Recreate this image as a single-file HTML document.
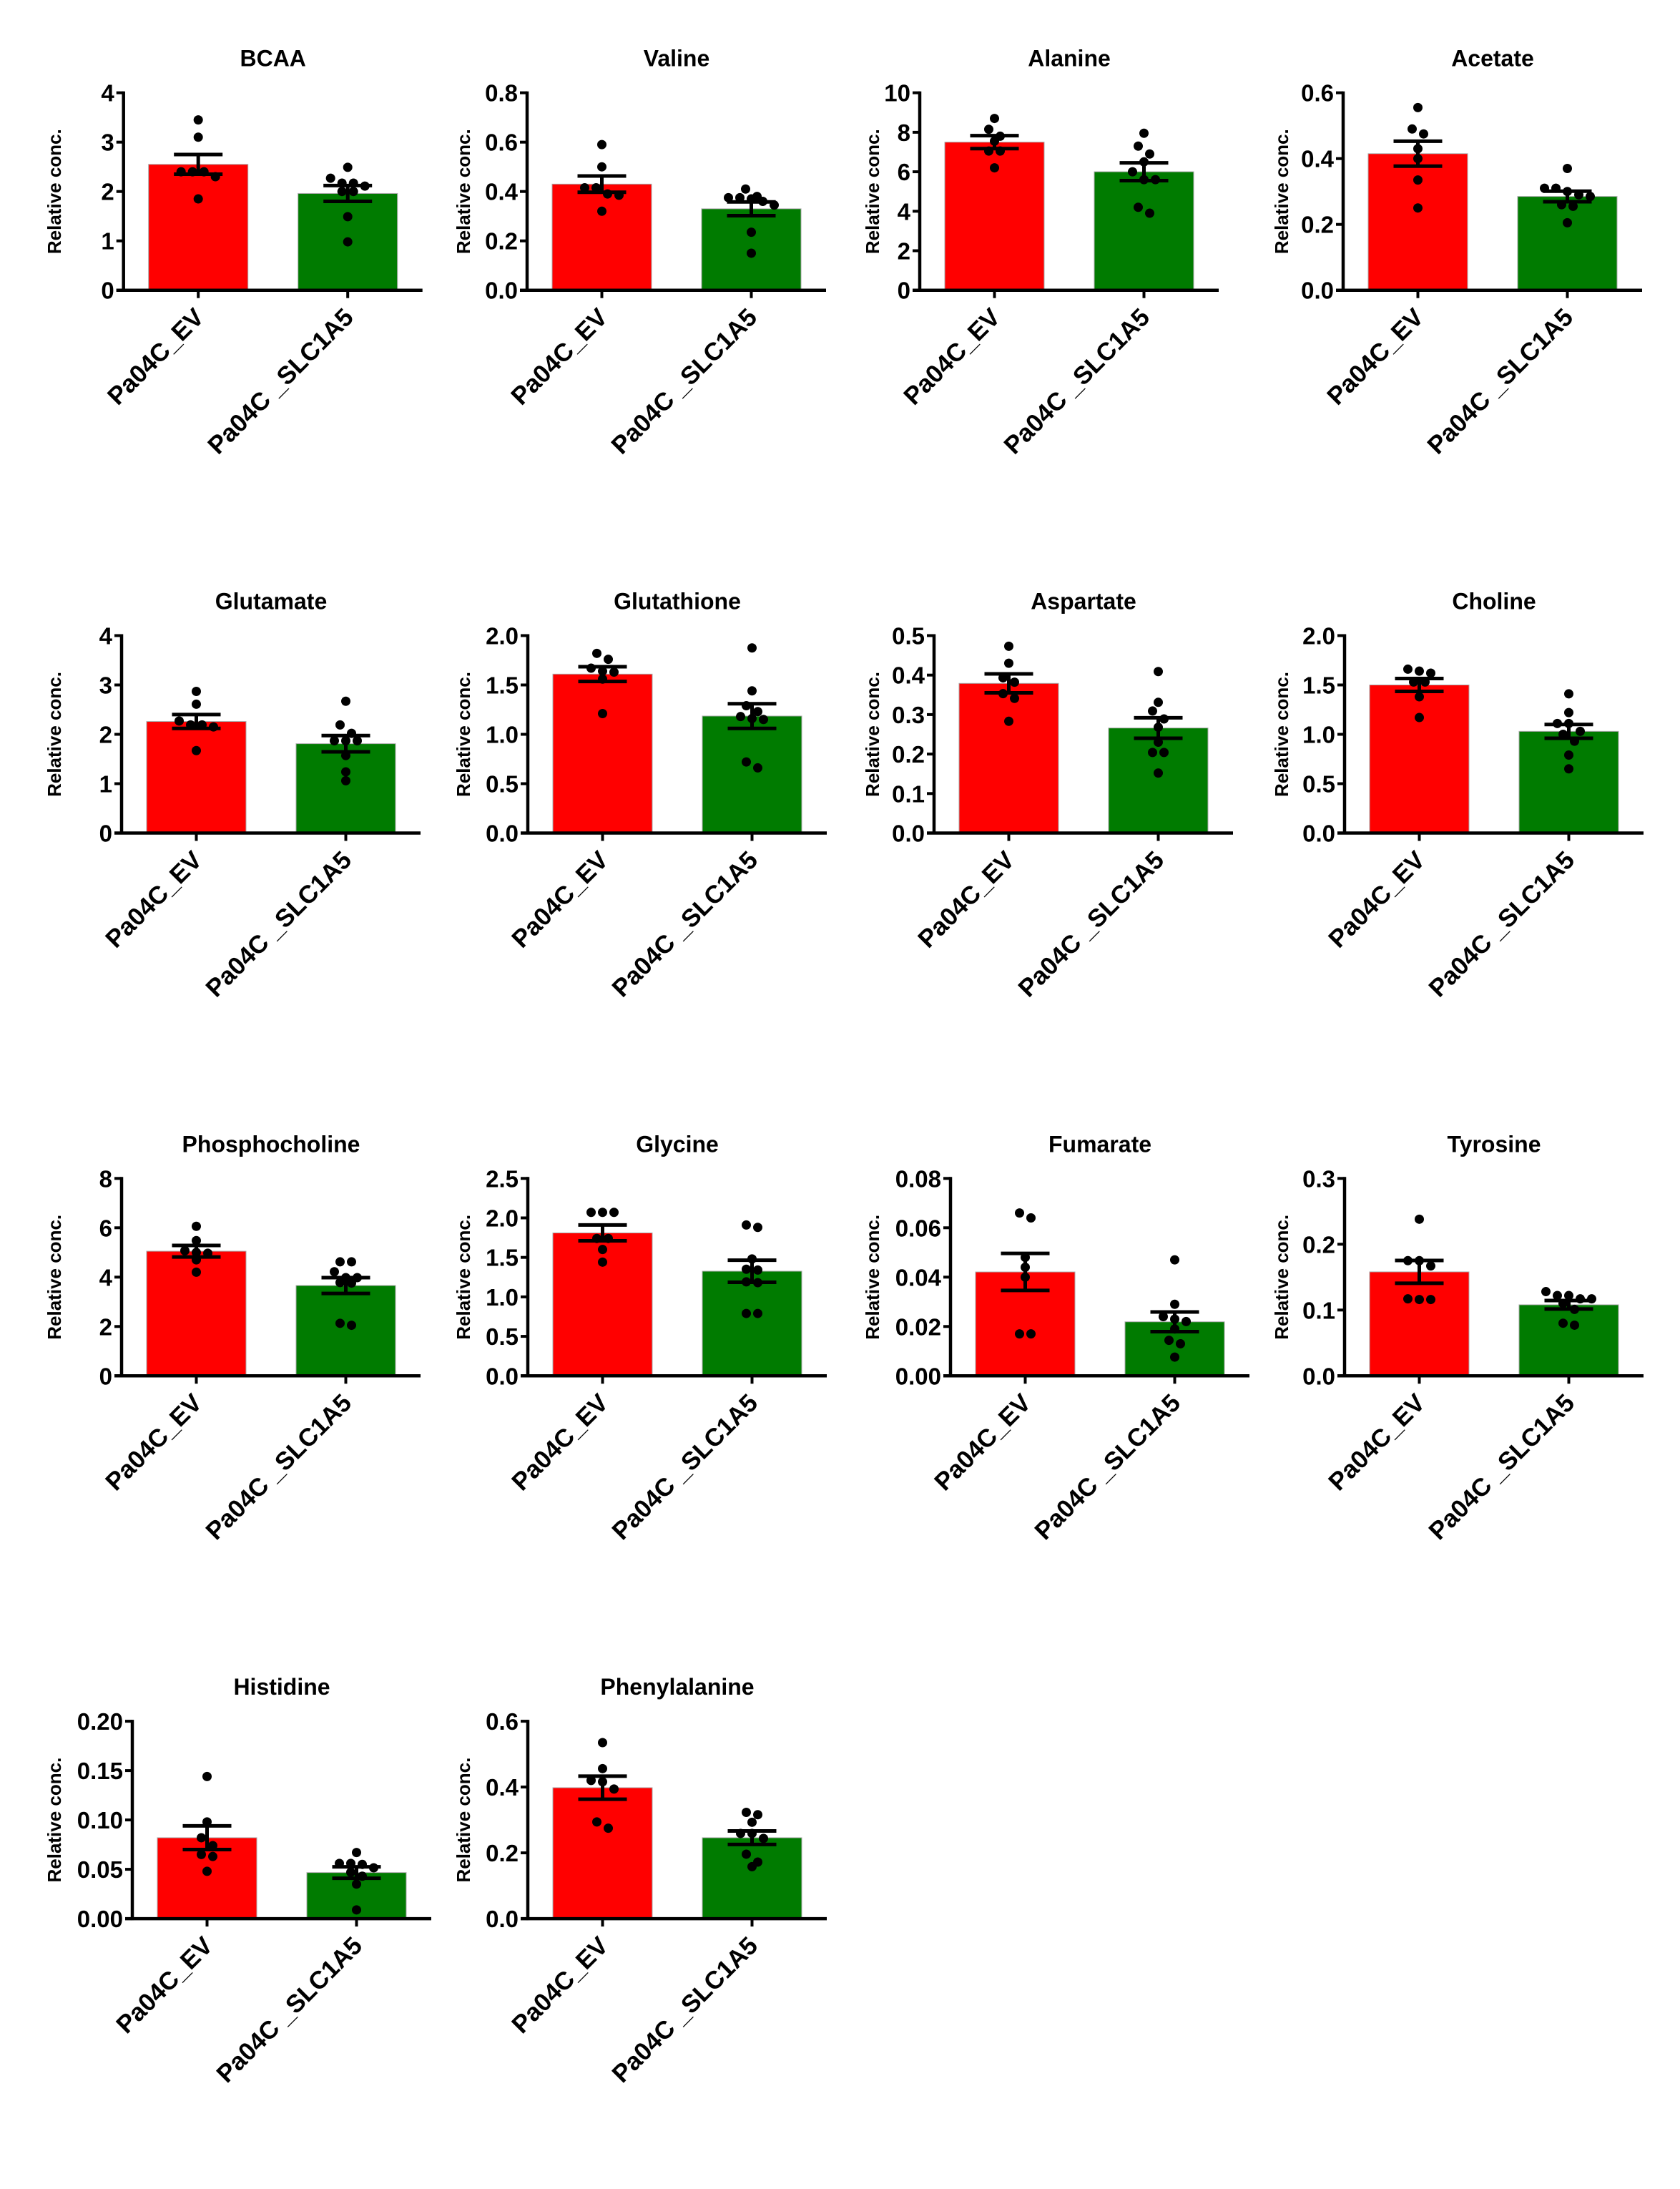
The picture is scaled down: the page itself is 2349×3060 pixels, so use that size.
<!DOCTYPE html>
<html><head><meta charset="utf-8"><style>
html,body{margin:0;padding:0;background:#fff;}
svg{display:block;font-family:"Liberation Sans",Arial,sans-serif;font-weight:bold;}
</style></head><body>
<svg id="fig" width="2349" height="3060" viewBox="0 0 2349 3060" xmlns="http://www.w3.org/2000/svg"></svg>
<script>
const titles = ["BCAA","Valine","Alanine","Acetate","Glutamate","Glutathione","Aspartate","Choline","Phosphocholine","Glycine","Fumarate","Tyrosine","Histidine","Phenylalanine"];
const categories = ["Pa04C_EV","Pa04C _SLC1A5"];
const yTicks = [
 ["0","1","2","3","4"],
 ["0.0","0.2","0.4","0.6","0.8"],
 ["0","2","4","6","8","10"],
 ["0.0","0.2","0.4","0.6"],
 ["0","1","2","3","4"],
 ["0.0","0.5","1.0","1.5","2.0"],
 ["0.0","0.1","0.2","0.3","0.4","0.5"],
 ["0.0","0.5","1.0","1.5","2.0"],
 ["0","2","4","6","8"],
 ["0.0","0.5","1.0","1.5","2.0","2.5"],
 ["0.00","0.02","0.04","0.06","0.08"],
 ["0.0","0.1","0.2","0.3"],
 ["0.00","0.05","0.10","0.15","0.20"],
 ["0.0","0.2","0.4","0.6"]
];
const evMean = [2.55,0.43,7.5,0.415,2.26,1.61,0.379,1.50,5.05,1.81,0.0421,0.158,0.082,0.398];
const evSem  = [0.20,0.033,0.33,0.038,0.14,0.075,0.024,0.065,0.235,0.10,0.0075,0.0173,0.012,0.035];
const slcMean = [1.96,0.33,6.0,0.285,1.81,1.185,0.266,1.03,3.66,1.325,0.0219,0.108,0.0467,0.246];
const slcSem  = [0.16,0.028,0.45,0.016,0.165,0.125,0.026,0.07,0.32,0.14,0.004,0.0065,0.0058,0.0205];
const evPoints = [
 [3.45,3.1,2.4,2.4,2.4,2.3,1.85],
 [0.59,0.50,0.415,0.415,0.39,0.385,0.32],
 [8.7,8.15,7.8,7.55,7.05,7.05,6.2],
 [0.555,0.49,0.475,0.43,0.40,0.335,0.25],
 [2.87,2.61,2.27,2.19,2.19,2.15,1.67],
 [1.82,1.76,1.67,1.64,1.63,1.56,1.21],
 [0.473,0.43,0.393,0.382,0.353,0.341,0.283],
 [1.66,1.64,1.62,1.53,1.53,1.38,1.17],
 [6.06,5.48,5.07,5.0,4.97,4.7,4.2],
 [2.07,2.07,2.07,1.74,1.74,1.60,1.44],
 [0.066,0.064,0.048,0.044,0.040,0.017,0.017],
 [0.238,0.175,0.175,0.167,0.117,0.116,0.116],
 [0.144,0.098,0.082,0.074,0.065,0.063,0.048],
 [0.535,0.456,0.42,0.416,0.394,0.294,0.275]
];
const slcPoints = [
 [2.49,2.27,2.17,2.17,2.11,2.0,2.0,1.49,0.98],
 [0.41,0.38,0.375,0.375,0.37,0.36,0.345,0.235,0.15],
 [7.95,7.3,6.9,6.5,6.0,5.6,5.6,4.2,3.9],
 [0.37,0.31,0.31,0.30,0.29,0.285,0.26,0.255,0.205],
 [2.67,2.19,2.02,1.87,1.87,1.87,1.57,1.24,1.06],
 [1.875,1.44,1.29,1.23,1.18,1.16,1.15,0.72,0.66],
 [0.409,0.331,0.309,0.289,0.268,0.23,0.204,0.204,0.152],
 [1.41,1.22,1.11,1.11,1.03,1.00,0.93,0.79,0.65],
 [4.62,4.62,4.22,3.98,3.98,3.78,3.76,2.13,2.05],
 [1.91,1.88,1.48,1.35,1.34,1.19,1.18,0.79,0.79],
 [0.047,0.029,0.024,0.023,0.022,0.019,0.0144,0.013,0.0076],
 [0.128,0.122,0.122,0.117,0.117,0.11,0.101,0.08,0.077],
 [0.067,0.056,0.056,0.055,0.0515,0.047,0.043,0.035,0.0089],
 [0.323,0.316,0.293,0.259,0.259,0.244,0.196,0.172,0.158]
];
const axisLeft = [172.7,737,1286,1878, 170,738,1306,1880, 170,738,1329,1880, 185,738];
const yLabelX = [76,648,1220,1792];

const svg = document.getElementById('fig');
const NS = "http://www.w3.org/2000/svg";
function mk(tag, attrs, parent){
  const e = document.createElementNS(NS, tag);
  for (const k in attrs) e.setAttribute(k, attrs[k]);
  (parent||svg).appendChild(e);
  return e;
}
const AXLEN = 418, PH = 276, BARW = 139;
const colors = ["#ff0000","#007b00"];

titles.forEach((t, i) => {
  const row = Math.floor(i/4), col = i%4;
  const x0 = axisLeft[i];
  const y0 = 405.7 + 758.8*row;
  const ticks = yTicks[i];
  const ymax = parseFloat(ticks[ticks.length-1]);
  const ys = v => y0 - v/ymax*PH;
  const xc = k => x0 + AXLEN*(0.25 + 0.5*k);

  const g = mk('g', {});
  
  

  const title = mk('text', {x: x0+AXLEN/2, y: y0-313, 'font-size': 32, 'text-anchor':'middle'}, g);
  title.textContent = t;
  
  

  const lx = yLabelX[col], ly = y0 - PH/2;
  const yl = mk('text', {x: lx, y: ly, 'font-size': 26, 'text-anchor':'middle', transform:`rotate(-90 ${lx} ${ly}) translate(0 9)`}, g);
  yl.textContent = 'Relative conc.';
  
  

  const means = [evMean[i], slcMean[i]];
  const sems = [evSem[i], slcSem[i]];
  const pts = [evPoints[i], slcPoints[i]];
  for (let k=0;k<2;k++){
    const b = mk('rect', {x: xc(k)-BARW/2, y: ys(means[k]), width: BARW, height: y0-ys(means[k]), fill: colors[k], stroke:'#aaa', 'stroke-width':1}, g);
    
    
  }
  const ya = mk('line', {x1:x0, y1:y0+2, x2:x0, y2:y0-PH-2, stroke:'#000', 'stroke-width':4.5}, g);
  
  
  const xa = mk('line', {x1:x0-10, y1:y0, x2:x0+AXLEN, y2:y0, stroke:'#000', 'stroke-width':4.5}, g);
  
  
  ticks.forEach(tl => {
    const v = parseFloat(tl), y = ys(v);
    mk('line', {x1:x0-10, y1:y, x2:x0, y2:y, stroke:'#000', 'stroke-width':4}, g);
    const tx = mk('text', {x: x0-13, y: y+12, 'font-size': 33, 'text-anchor':'end'}, g);
    tx.textContent = tl;
    
    
  });
  for (let k=0;k<2;k++){
    const cx = xc(k);
    mk('line', {x1:cx, y1:y0, x2:cx, y2:y0+11, stroke:'#000', 'stroke-width':4}, g);
    const ax = cx+10, ay = y0+40;
    const lab = mk('text', {x: ax, y: ay, 'font-size': 35, 'text-anchor':'end', transform:`rotate(-45 ${ax} ${ay})`}, g);
    lab.textContent = categories[k];
    
    
  }
  for (let k=0;k<2;k++){
    const cx = xc(k);
    const sorted = pts[k].slice().sort((a,b)=>b-a);
    const groups = [];
    sorted.forEach(v => {
      const py = ys(v);
      const last = groups[groups.length-1];
      if (last && Math.abs(ys(last[0]) - py) < 12) last.push(v); else groups.push([v]);
    });
    groups.forEach(gr => {
      gr.forEach((v, j) => {
        const off = (j - (gr.length-1)/2) * 16;
        const d = mk('circle', {cx: cx+off, cy: ys(v), r: 6.5, fill:'#000'}, g);
        
        
      });
    });
  }
  for (let k=0;k<2;k++){
    const cx = xc(k), hi = ys(means[k]+sems[k]), lo = ys(means[k]-sems[k]);
    const eb = mk('g', {stroke:'#000', 'stroke-width':5}, g);
    
    
    mk('line', {x1:cx, y1:hi, x2:cx, y2:lo}, eb);
    mk('line', {x1:cx-34, y1:hi, x2:cx+34, y2:hi}, eb);
    mk('line', {x1:cx-34, y1:lo, x2:cx+34, y2:lo}, eb);
  }
});
</script>
</body></html>
